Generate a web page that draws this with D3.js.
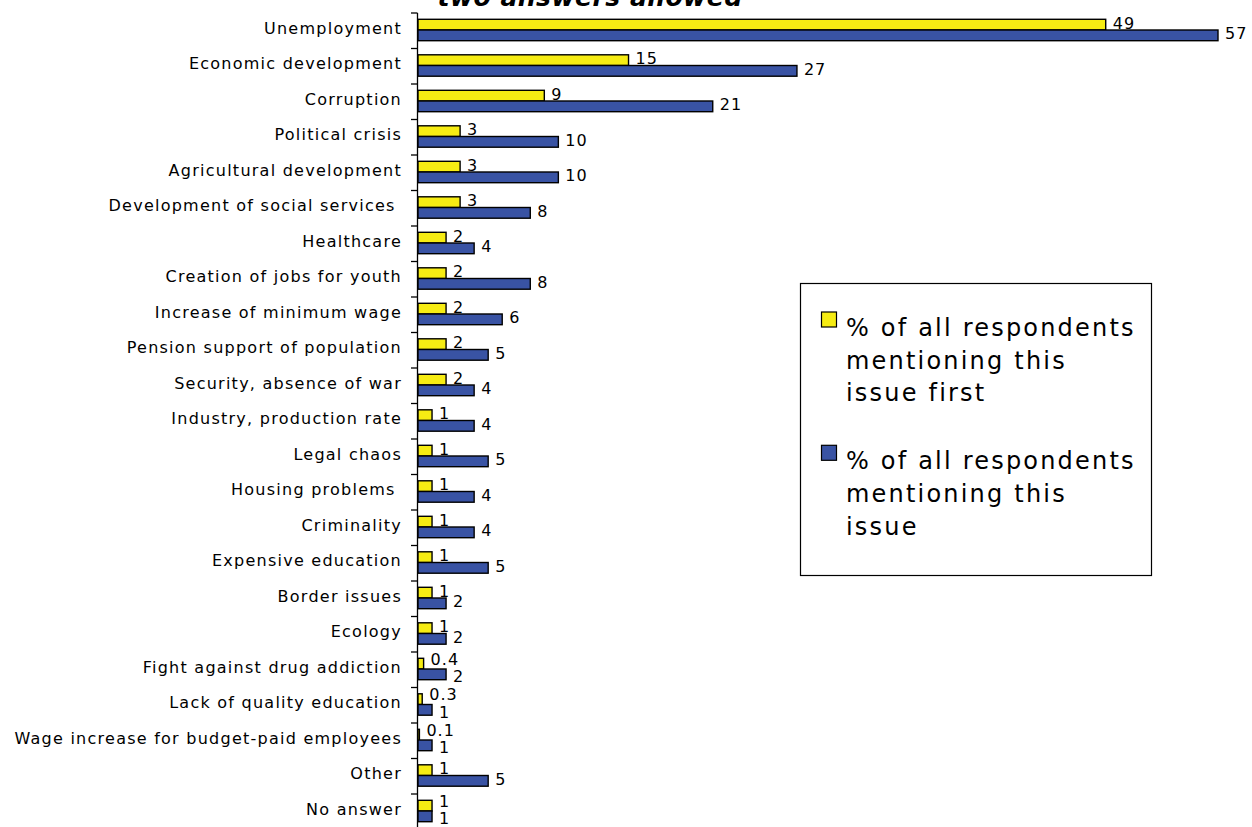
<!DOCTYPE html>
<html>
<head>
<meta charset="utf-8">
<script src="https://cdn.jsdelivr.net/npm/d3@7"></script>
<style>
  html, body { margin: 0; padding: 0; background: #fff; }
  svg { display: block; font-family: "DejaVu Sans", Verdana, sans-serif; }
</style>
</head>
<body>
<svg id="chart" width="1252" height="827"></svg>
<script>
// ---- Data ----
const categories = [
  "Unemployment",
  "Economic development",
  "Corruption",
  "Political crisis",
  "Agricultural development",
  "Development of social services ",
  "Healthcare",
  "Creation of jobs for youth",
  "Increase of minimum wage",
  "Pension support of population",
  "Security, absence of war",
  "Industry, production rate",
  "Legal chaos",
  "Housing problems ",
  "Criminality",
  "Expensive education",
  "Border issues",
  "Ecology",
  "Fight against drug addiction",
  "Lack of quality education",
  "Wage increase for budget-paid employees",
  "Other",
  "No answer"
];
const firstMention = [49, 15, 9, 3, 3, 3, 2, 2, 2, 2, 2, 1, 1, 1, 1, 1, 1, 1, 0.4, 0.3, 0.1, 1, 1];
const allMentions  = [57, 27, 21, 10, 10, 8, 4, 8, 6, 5, 4, 4, 5, 4, 4, 5, 2, 2, 2, 1, 1, 5, 1];
const seriesNames = [
  "% of all respondents mentioning this issue first",
  "% of all respondents mentioning this issue"
];
const legendLines = [
  ["% of all respondents", "mentioning this", "issue first"],
  ["% of all respondents", "mentioning this", "issue"]
];
const titleText = "two answers allowed";

// ---- Styling ----
const colors = ["#f6ec13", "#3953a4"];
const svg = d3.select("#chart");

const axisX = 418;
const rowTop = 13, rowStep = 35.5;

const x = d3.scaleLinear()
  .domain([0, d3.max(allMentions)])
  .range([axisX, 1218]);

const y = d3.scaleBand()
  .domain(categories)
  .range([rowTop, rowTop + rowStep * categories.length])
  .padding(0);

const sub = d3.scaleBand()
  .domain([0, 1])
  .range([6.3, 27.7])
  .padding(0);

// Title (clipped at the top edge, as in the reference)
svg.append("text")
  .attr("x", 590).attr("y", 6)
  .attr("text-anchor", "middle")
  .attr("font-size", 25)
  .attr("font-weight", "bold")
  .attr("font-style", "italic")
  .attr("letter-spacing", 0.5)
  .text(titleText);

// Axis with ticks at row boundaries
const g = svg.append("g");
g.append("line")
  .attr("x1", axisX - 0.5).attr("x2", axisX - 0.5)
  .attr("y1", y.range()[0]).attr("y2", y.range()[1])
  .attr("stroke", "#000").attr("stroke-width", 1.3);
g.selectAll("line.tick")
  .data(categories)
  .join("line")
  .attr("class", "tick")
  .attr("x1", axisX - 7).attr("x2", axisX - 0.5)
  .attr("y1", d => y(d)).attr("y2", d => y(d))
  .attr("stroke", "#000").attr("stroke-width", 1.3);

// Category labels
g.selectAll("text.cat")
  .data(categories)
  .join("text")
  .attr("class", "cat")
  .attr("x", 402)
  .attr("y", d => y(d) + y.bandwidth() / 2 - 2.5)
  .attr("dy", "0.35em")
  .attr("text-anchor", "end")
  .attr("font-size", 16)
  .attr("letter-spacing", 1.25)
  .style("white-space", "pre")
  .text(d => d);

// Bars
const rows = categories.map((c, i) => ({ c, vals: [firstMention[i], allMentions[i]] }));

const rowG = svg.append("g").selectAll("g.row")
  .data(rows)
  .join("g")
  .attr("class", "row")
  .attr("transform", d => `translate(0,${y(d.c)})`);

rowG.selectAll("rect")
  .data(d => d.vals.map((v, k) => ({ v, k })))
  .join("rect")
  .attr("x", x(0))
  .attr("y", d => sub(d.k))
  .attr("width", d => x(d.v) - x(0))
  .attr("height", sub.bandwidth())
  .attr("fill", d => colors[d.k])
  .attr("stroke", "#000")
  .attr("stroke-width", 1.4);

// Value labels
rowG.each(function (d) {
  const gr = d3.select(this);
  const labels = d.vals.map((v, k) => gr.append("text")
    .attr("x", x(v) + 7)
    .attr("y", sub(k) + sub.bandwidth() / 2 - 1.5)
    .attr("dy", "0.35em")
    .attr("font-size", 16)
    .attr("letter-spacing", 1)
    .text(String(v)));
  // simple collision avoidance between the two labels of a row
  const b0 = labels[0].node().getBBox();
  const b1 = labels[1].node().getBBox();
  const overlapX = b0.x < b1.x + b1.width && b1.x < b0.x + b0.width;
  if (overlapX) {
    labels[0].attr("y", +labels[0].attr("y") - 3);
    labels[1].attr("y", +labels[1].attr("y") + 4);
  }
});

// Legend
const lg = svg.append("g");
lg.append("rect")
  .attr("x", 800.5).attr("y", 283.5)
  .attr("width", 351).attr("height", 292)
  .attr("fill", "#fff").attr("stroke", "#000").attr("stroke-width", 1.2);

const itemBase = [336, 469.3];
const lineGap = 32.6;
seriesNames.forEach((name, k) => {
  lg.append("rect")
    .attr("x", 821.5).attr("y", itemBase[k] - 24)
    .attr("width", 15).attr("height", 15)
    .attr("fill", colors[k]).attr("stroke", "#000").attr("stroke-width", 1.2);
  const t = lg.append("text")
    .attr("font-size", 24)
    .attr("letter-spacing", 2.2);
  legendLines[k].forEach((line, j) => {
    t.append("tspan")
      .attr("x", 846)
      .attr("y", itemBase[k] + j * lineGap)
      .text(line);
  });
});
</script>
</body>
</html>
